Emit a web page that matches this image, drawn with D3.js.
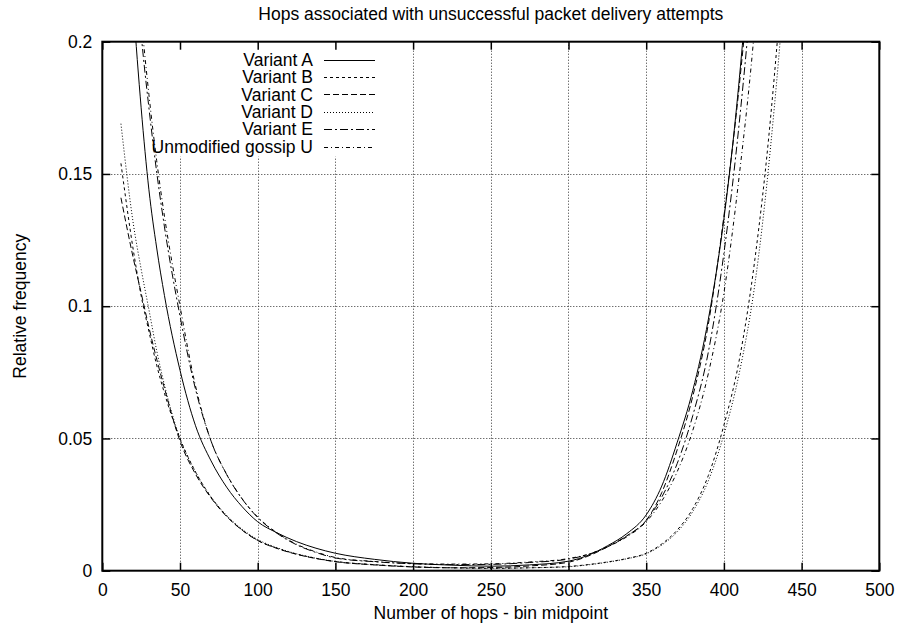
<!DOCTYPE html>
<html>
<head>
<meta charset="utf-8">
<script src="https://cdn.jsdelivr.net/npm/d3@7"></script>
<style>
  html, body { margin: 0; padding: 0; background: #fff; }
  svg { display: block; font-family: "Liberation Sans", Arial, Helvetica, sans-serif; }
</style>
</head>
<body>
<svg id="chart" width="902" height="629"></svg>
<script>
// ---- Data ----
const title = "Hops associated with unsuccessful packet delivery attempts";
const xLabel = "Number of hops - bin midpoint";
const yLabel = "Relative frequency";

const xTicks = [0, 50, 100, 150, 200, 250, 300, 350, 400, 450, 500];
const yTicks = [0, 0.05, 0.1, 0.15, 0.2];
const yTickLabels = ["0", "0.05", "0.1", "0.15", "0.2"];

const seriesNames = ["Variant A", "Variant B", "Variant C", "Variant D", "Variant E", "Unmodified gossip U"];

const hops = [12, 20, 25, 30, 35, 40, 50, 60, 70, 80, 90, 100, 112.5, 125, 137.5, 150, 175, 200, 225, 250, 275,
              300, 312.5, 325, 337.5, 350, 360, 370, 380, 390, 400, 410, 420, 430, 440, 450];

const variantA = [0.300, 0.214, 0.175, 0.144, 0.122, 0.104, 0.0758, 0.0548, 0.0415, 0.0316, 0.0242, 0.0185, 0.0143, 0.0110, 0.0085, 0.0066, 0.0043, 0.0028, 0.0021, 0.0017, 0.0022,
                  0.0036, 0.0058, 0.0094, 0.0140, 0.0211, 0.0320, 0.0486, 0.0682, 0.0951, 0.133, 0.1865, 0.260, 0.360, 0.500, 0.700];
const variantB = [0.154, 0.121, 0.104, 0.0905, 0.0777, 0.0671, 0.050, 0.0373, 0.0278, 0.0207, 0.0154, 0.0115, 0.0085, 0.0063, 0.0047, 0.0035, 0.0023, 0.0015, 0.0011, 0.0009, 0.0011,
                  0.0016, 0.0023, 0.0033, 0.0046, 0.0066, 0.0101, 0.0154, 0.0235, 0.036, 0.055, 0.080, 0.118, 0.171, 0.245, 0.350];
const variantC = [0.141, 0.118, 0.105, 0.092, 0.080, 0.069, 0.049, 0.0365, 0.0275, 0.0205, 0.0153, 0.0114, 0.0084, 0.0062, 0.0046, 0.0034, 0.0022, 0.0014, 0.0011, 0.0012, 0.0018,
                  0.0032, 0.0055, 0.0090, 0.0132, 0.0190, 0.0295, 0.0458, 0.066, 0.0933, 0.134, 0.184, 0.250, 0.350, 0.490, 0.680];
const variantD = [0.169, 0.131, 0.114, 0.0987, 0.0832, 0.0702, 0.050, 0.0374, 0.0279, 0.0209, 0.0157, 0.0118, 0.0087, 0.0064, 0.0047, 0.0035, 0.0022, 0.0015, 0.0011, 0.0009, 0.0011,
                  0.0015, 0.0022, 0.0032, 0.0045, 0.0064, 0.0097, 0.0147, 0.0224, 0.034, 0.0515, 0.075, 0.1086, 0.160, 0.230, 0.330];
const variantE = [0.318, 0.241, 0.203, 0.175, 0.1507, 0.130, 0.0963, 0.0686, 0.049, 0.0364, 0.0271, 0.0201, 0.0141, 0.0098, 0.0069, 0.0048, 0.0034, 0.0026, 0.0023, 0.0024, 0.0031,
                  0.0044, 0.0061, 0.0090, 0.0131, 0.0190, 0.0278, 0.0406, 0.0587, 0.0827, 0.120, 0.170, 0.235, 0.320, 0.440, 0.600];
const gossipU  = [0.330, 0.250, 0.210, 0.180, 0.155, 0.134, 0.100, 0.0698, 0.049, 0.0365, 0.0272, 0.0203, 0.0143, 0.0100, 0.0071, 0.0050, 0.0035, 0.0027, 0.0025, 0.0026, 0.0033,
                  0.0046, 0.0062, 0.0090, 0.0128, 0.0185, 0.0263, 0.0375, 0.0531, 0.0746, 0.105, 0.150, 0.207, 0.290, 0.400, 0.550];

const seriesValues = [variantA, variantB, variantC, variantD, variantE, gossipU];
const dashes = [null, "3,3", "6,3", "1,2", "8,3,2,3", "4,3,1,3"];

// ---- Layout ----
const svg = d3.select("#chart");
const pL = 102.3, pR = 879.3, pT = 41.7, pB = 570.7;
const fontSize = 17.5;

const x = d3.scaleLinear().domain([0, 500]).range([pL, pR]);
const y = d3.scaleLinear().domain([0, 0.2]).range([pB, pT]);

// clip
svg.append("defs").append("clipPath").attr("id", "plotclip")
  .append("rect").attr("x", pL).attr("y", pT).attr("width", pR - pL).attr("height", pB - pT);

// grid
const grid = svg.append("g").attr("stroke", "#333").attr("stroke-width", 1).attr("stroke-dasharray", "1,2");
grid.selectAll("line.vx").data(xTicks.filter(d => d > 0 && d < 500)).join("line")
  .attr("x1", d => Math.round(x(d)) + 0.5).attr("x2", d => Math.round(x(d)) + 0.5)
  .attr("y1", pT).attr("y2", pB);
grid.selectAll("line.hy").data(yTicks.filter(d => d > 0 && d < 0.2)).join("line")
  .attr("x1", pL).attr("x2", pR)
  .attr("y1", d => Math.round(y(d)) + 0.5).attr("y2", d => Math.round(y(d)) + 0.5);

// opaque key background
svg.append("rect").attr("x", 149).attr("y", pT + 1).attr("width", 236).attr("height", 114).attr("fill", "#fff");

// curves
const line = d3.line().x((d, i) => x(hops[i])).y(d => y(d)).curve(d3.curveMonotoneX);
const curves = svg.append("g").attr("clip-path", "url(#plotclip)");
seriesValues.forEach((vals, k) => {
  curves.append("path").datum(vals)
    .attr("d", line)
    .attr("fill", "none").attr("stroke", "#000").attr("stroke-width", 1)
    .attr("stroke-dasharray", dashes[k]);
});

// legend
const legend = svg.append("g");
seriesNames.forEach((name, k) => {
  const ly = 59.5 + k * 17.45;
  legend.append("text").attr("x", 313).attr("y", ly).attr("dy", "0.35em")
    .attr("text-anchor", "end").attr("font-size", fontSize).attr("fill", "#000").text(name);
  legend.append("line").attr("x1", 324).attr("x2", 375).attr("y1", Math.round(ly) + 0.5).attr("y2", Math.round(ly) + 0.5)
    .attr("stroke", "#000").attr("stroke-width", 1).attr("stroke-dasharray", dashes[k]);
});

// axes (ticks pointing inward, mirrored)
const xAxisB = d3.axisBottom(x).tickValues(xTicks).tickSizeInner(-8).tickSizeOuter(0).tickPadding(13).tickFormat(d3.format("d"));
const xAxisT = d3.axisTop(x).tickValues(xTicks).tickSizeInner(-8).tickSizeOuter(0).tickFormat("");
const yAxisL = d3.axisLeft(y).tickValues(yTicks).tickSizeInner(-8).tickSizeOuter(0).tickPadding(10)
  .tickFormat((d, i) => yTickLabels[i]);
const yAxisR = d3.axisRight(y).tickValues(yTicks).tickSizeInner(-8).tickSizeOuter(0).tickFormat("");

function styleAxis(g) {
  g.select(".domain").remove();
  g.selectAll(".tick line").attr("stroke", "#000").attr("stroke-width", 1.5);
  g.selectAll(".tick text").attr("font-size", fontSize).attr("fill", "#000")
    .attr("font-family", "\"Liberation Sans\", Arial, Helvetica, sans-serif");
}
svg.append("g").attr("transform", `translate(0,${pB})`).call(xAxisB).call(styleAxis);
svg.append("g").attr("transform", `translate(0,${pT})`).call(xAxisT).call(styleAxis);
svg.append("g").attr("transform", `translate(${pL},0)`).call(yAxisL).call(styleAxis);
svg.append("g").attr("transform", `translate(${pR},0)`).call(yAxisR).call(styleAxis);

// border
svg.append("rect").attr("x", pL).attr("y", pT).attr("width", pR - pL).attr("height", pB - pT)
  .attr("fill", "none").attr("stroke", "#000").attr("stroke-width", 2);

// titles
svg.append("text").attr("x", (pL + pR) / 2).attr("y", 20).attr("text-anchor", "middle")
  .attr("font-size", fontSize).attr("fill", "#000").text(title);
svg.append("text").attr("x", (pL + pR) / 2).attr("y", 619).attr("text-anchor", "middle")
  .attr("font-size", fontSize).attr("fill", "#000").text(xLabel);
svg.append("text").attr("transform", `translate(26,${(pT + pB) / 2}) rotate(-90)`).attr("text-anchor", "middle")
  .attr("font-size", fontSize).attr("fill", "#000").text(yLabel);
</script>
</body>
</html>
